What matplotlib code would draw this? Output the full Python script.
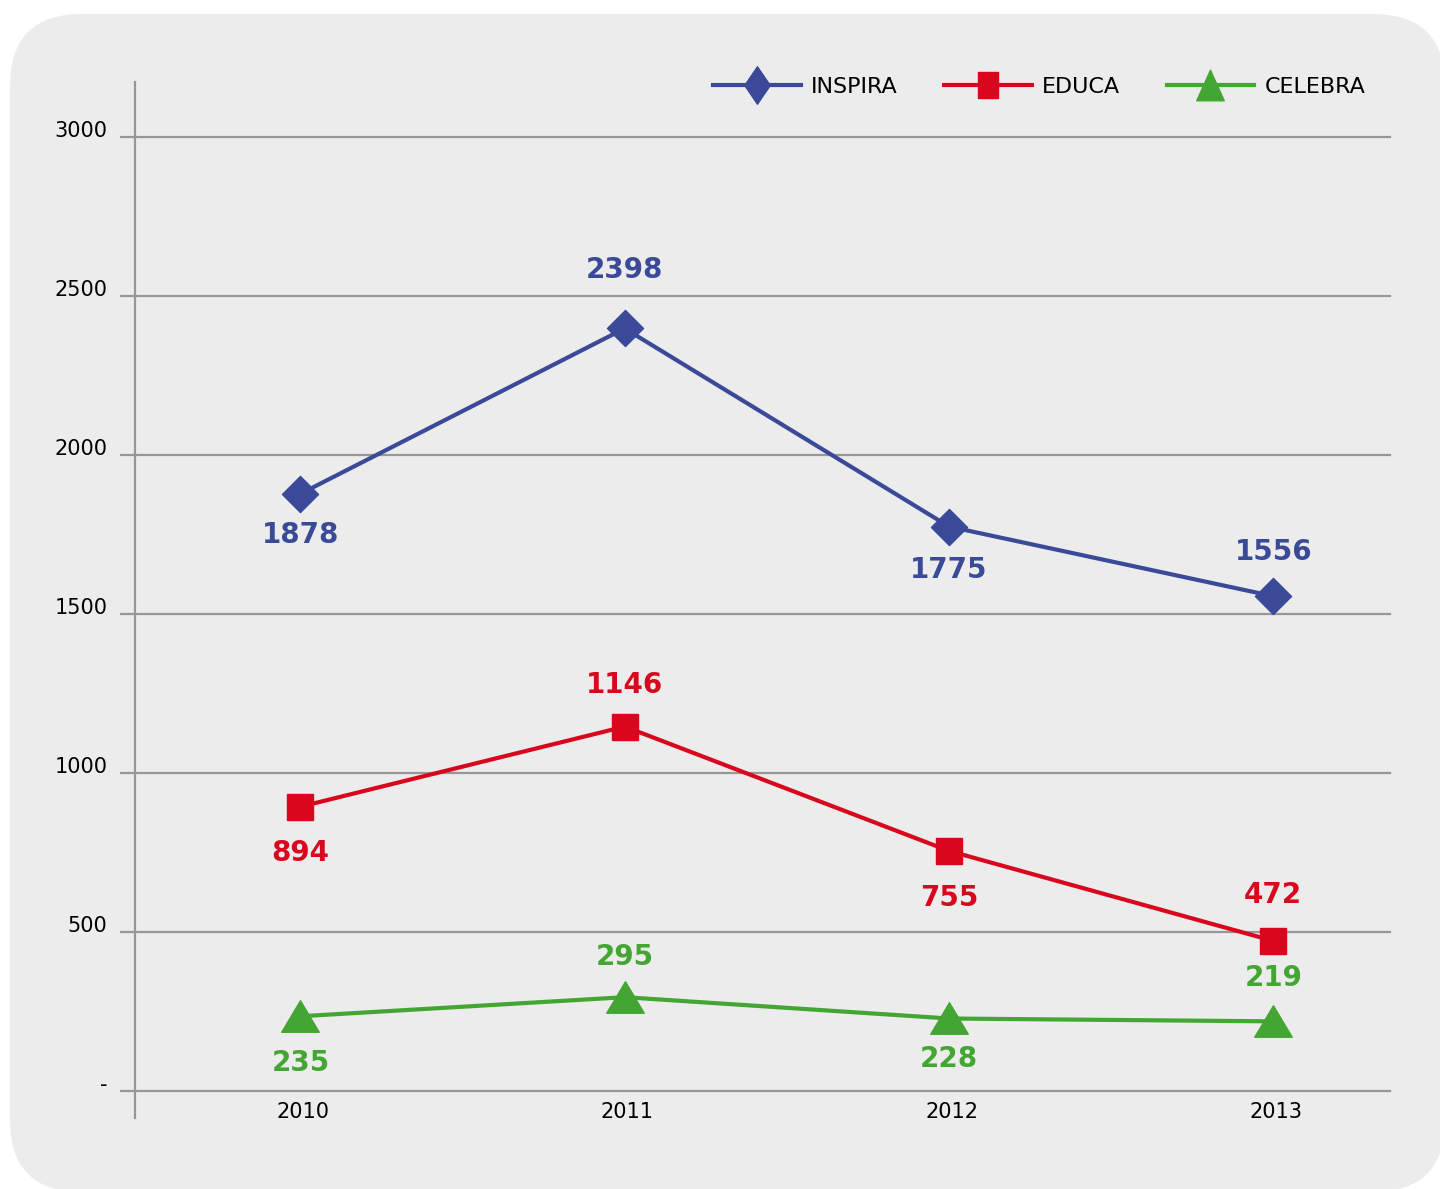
import numpy as np
import matplotlib.pyplot as plt
import matplotlib.transforms as mtransforms
from matplotlib.patches import FancyBboxPatch
from matplotlib.path import Path
from matplotlib.lines import Line2D

plt.rcParams['font.family'] = ['DejaVu Sans']

years = ["2010", "2011", "2012", "2013"]
inspira = [1878, 2398, 1775, 1556]
educa = [894, 1146, 755, 472]
celebra = [235, 295, 228, 219]
yticks = [0, 500, 1000, 1500, 2000, 2500, 3000]
ytick_labels = ["-", "500", "1000", "1500", "2000", "2500", "3000"]

# label offsets (points), + above / - below
off_inspira = [-30, 42, -31, 32]
off_educa = [-33, 30, -34, 33]
off_celebra = [-34, 29, -29, 31]

blue = "#3a4a98"
red = "#d9071e"
green = "#44a632"
grid_c = "#9a9596"

diamond = Path([(0, 1), (1, 0), (0, -1), (-1, 0), (0, 1)], closed=True)
triangle = Path([(-1, -0.84), (1, -0.84), (0, 0.84), (-1, -0.84)], closed=True)
# squeezed versions for the legend
diamond_l = Path([(0, 1), (0.68, 0), (0, -1), (-0.68, 0), (0, 1)], closed=True)
square_l = Path([(-0.73, -1), (0.73, -1), (0.73, 1), (-0.73, 1), (-0.73, -1)], closed=True)
triangle_l = Path([(-0.9, -1), (0.9, -1), (0, 1), (-0.9, -1)], closed=True)

fig = plt.figure(figsize=(14.4, 11.89), dpi=100)
fig.patch.set_facecolor("white")
bg = FancyBboxPatch((0.10, -0.03), 14.35, 11.78,
                    boxstyle="round,pad=0,rounding_size=0.72",
                    transform=fig.dpi_scale_trans, facecolor="#ebeceb",
                    edgecolor="none", zorder=-5)
fig.patches.append(bg)

ax = fig.add_axes([135 / 1440, 98 / 1189, (1390 - 135) / 1440, (1091 - 137) / 1189])
ax.set_facecolor("none")
x = np.arange(len(years))

series = [(inspira, blue, diamond, 26, off_inspira),
          (educa, red, "s", 19, off_educa),
          (celebra, green, triangle, 27, off_celebra)]
for vals, col, mk, ms, offs in series:
    ax.plot(x, vals, color=col, lw=3, marker=mk, ms=ms, mec=col, mfc=col,
            zorder=3, clip_on=False)
    for xi, v, o in zip(x, vals, offs):
        ax.annotate(str(v), (xi, v), xytext=(0, o), textcoords="offset points",
                    ha="center", va="center", fontsize=20, fontweight="bold",
                    color=col, zorder=4)

ax.set_xlim(-0.51, 3.36)
ax.set_ylim(0, 3000)
ax.set_yticks(yticks)
ax.set_yticklabels(ytick_labels)
ax.set_xticks(x)
ax.set_xticklabels(years)
for s in ax.spines.values():
    s.set_visible(False)
ax.yaxis.grid(True, color=grid_c, lw=1.6)
for gl in ax.get_ygridlines():
    gl.set_clip_on(False)
ax.tick_params(axis="y", length=11, width=1.6, color=grid_c, pad=9, labelsize=15)
ax.tick_params(axis="x", length=0, pad=8, labelsize=15)
shift = mtransforms.ScaledTranslation(0, 6 / 72, fig.dpi_scale_trans)
for lab in ax.get_yticklabels():
    lab.set_transform(lab.get_transform() + shift)
shift_x = mtransforms.ScaledTranslation(2 / 72, 0, fig.dpi_scale_trans)
for lab in ax.get_xticklabels():
    lab.set_transform(lab.get_transform() + shift_x)
ax.plot([-0.51, -0.51], [-0.0283 * 3000, 1.0577 * 3000], color=grid_c, lw=1.6,
        clip_on=False, zorder=2)

handles = [Line2D([], [], color=blue, lw=3, marker=diamond_l, ms=27),
           Line2D([], [], color=red, lw=3, marker=square_l, ms=19),
           Line2D([], [], color=green, lw=3, marker=triangle_l, ms=22)]
fig.legend(handles, ["INSPIRA", "EDUCA", "CELEBRA"], loc="center",
           bbox_to_anchor=(1039 / 1440, 1 - 87 / 1189), ncol=3, frameon=False,
           fontsize=16, handlelength=3.95, handletextpad=0.45, columnspacing=2.1)

fig.savefig("out.png", dpi=100, facecolor="white")
